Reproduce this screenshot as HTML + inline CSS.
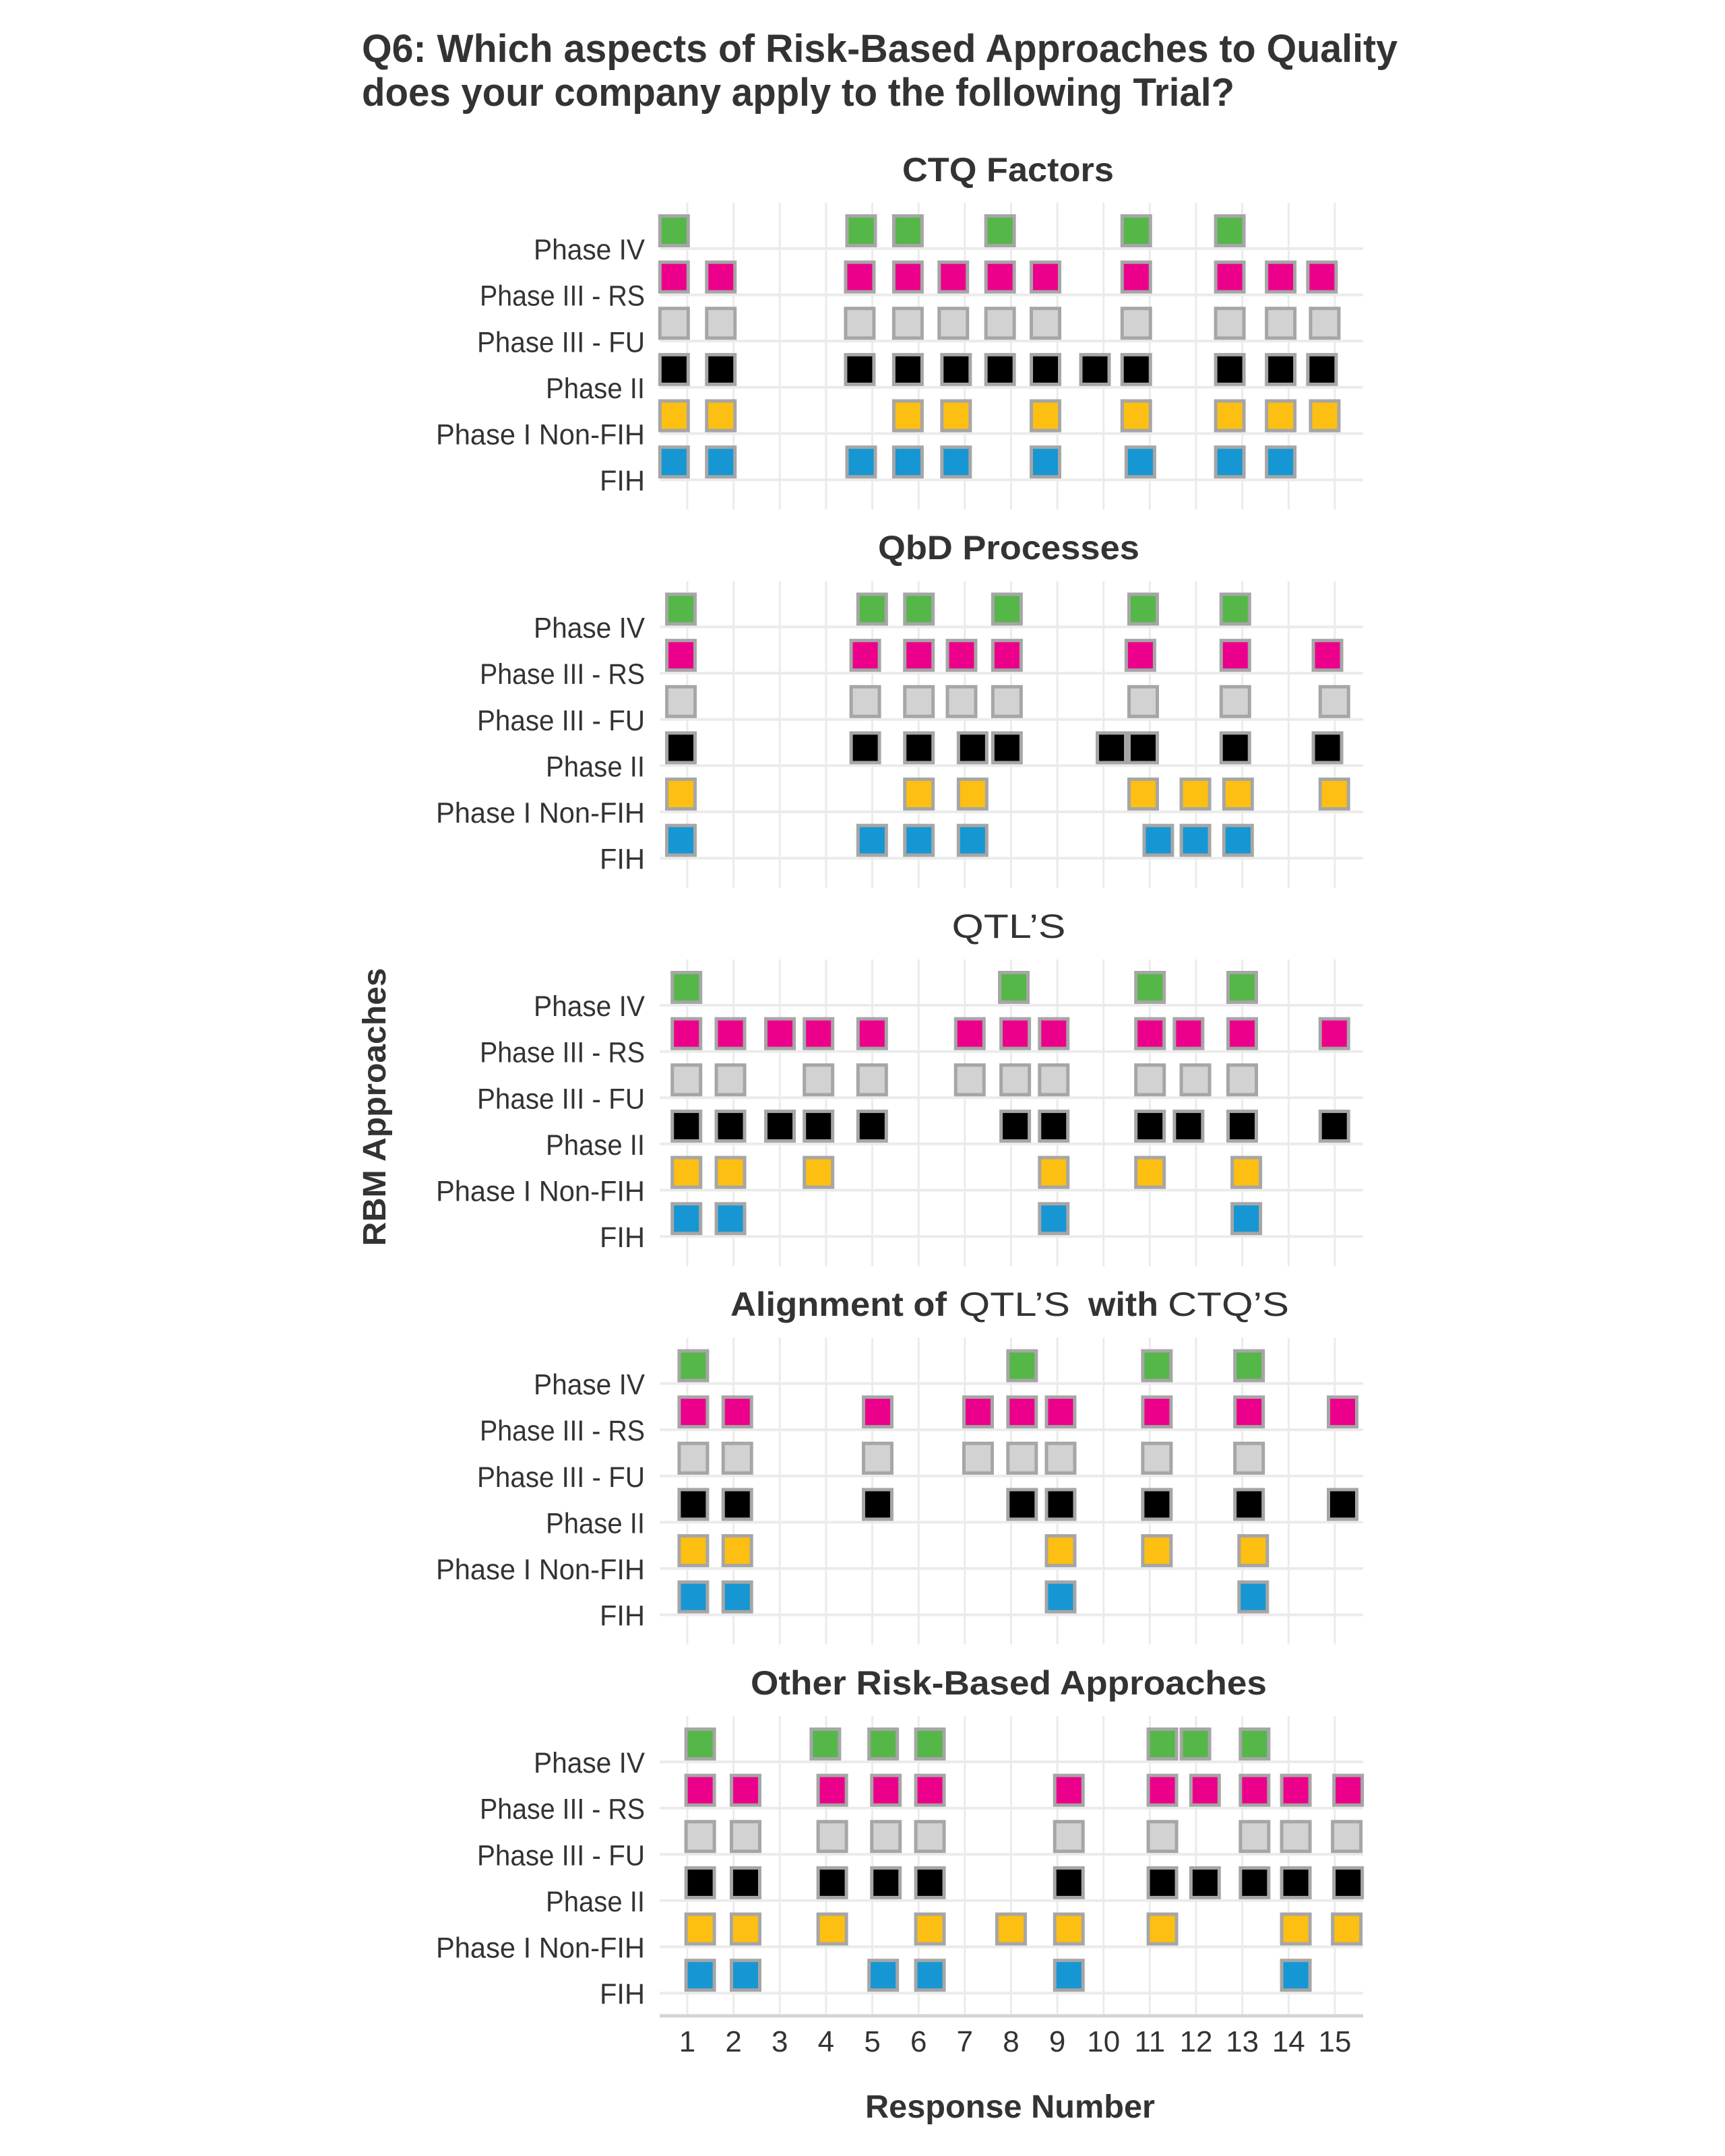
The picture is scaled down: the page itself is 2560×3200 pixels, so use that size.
<!DOCTYPE html>
<html><head><meta charset="utf-8"><style>
html,body{margin:0;padding:0;background:#fff;width:2560px;height:3200px;overflow:hidden}
svg{display:block}
text{fill:#333;font-family:"Liberation Sans","Noto Sans CJK SC",sans-serif}
</style></head><body>
<svg id="s" width="2560" height="3200" viewBox="0 0 2560 3200" xmlns="http://www.w3.org/2000/svg">
<rect width="2560" height="3200" fill="#fff"/>
<g id="g"></g>
<text x="537" y="92" font-size="58" font-weight="bold" textLength="1537" lengthAdjust="spacingAndGlyphs">Q6: Which aspects of Risk-Based Approaches to Quality</text>
<text x="537" y="157" font-size="58" font-weight="bold" textLength="1295" lengthAdjust="spacingAndGlyphs">does your company apply to the following Trial?</text>
<text transform="translate(572,1643) rotate(-90)" text-anchor="middle" font-size="48" font-weight="bold" textLength="413" lengthAdjust="spacingAndGlyphs">RBM Approaches</text>
<text x="1499" y="3143" text-anchor="middle" font-size="48" font-weight="bold" textLength="430" lengthAdjust="spacingAndGlyphs">Response Number</text>
<text x="1496" y="269" text-anchor="middle" font-size="50" font-weight="bold" textLength="314" lengthAdjust="spacingAndGlyphs">CTQ Factors</text>
<text x="1497" y="830" text-anchor="middle" font-size="50" font-weight="bold" textLength="388" lengthAdjust="spacingAndGlyphs">QbD Processes</text>
<text x="1497" y="1392" text-anchor="middle" font-size="50" textLength="169" lengthAdjust="spacingAndGlyphs">QTL’S</text>
<text x="1084" y="1953" font-size="50" font-weight="bold" textLength="321" lengthAdjust="spacingAndGlyphs">Alignment of</text>
<text x="1423" y="1953" font-size="50" textLength="165" lengthAdjust="spacingAndGlyphs">QTL’S</text>
<text x="1615" y="1953" font-size="50" font-weight="bold" textLength="104" lengthAdjust="spacingAndGlyphs">with</text>
<text x="1733" y="1953" font-size="50" textLength="180" lengthAdjust="spacingAndGlyphs">CTQ’S</text>
<text x="1497" y="2515" text-anchor="middle" font-size="50" font-weight="bold" textLength="766" lengthAdjust="spacingAndGlyphs">Other Risk-Based Approaches</text>
</svg>
<script>
(function(){
var NS="http://www.w3.org/2000/svg";
var G=document.getElementById("g");
function el(tag,attrs,txt){var e=document.createElementNS(NS,tag);for(var k in attrs)e.setAttribute(k,attrs[k]);if(txt!==undefined)e.textContent=txt;G.appendChild(e);return e;}
var S=2.0415;
var cols=["#55b748","#ec008b","#d2d2d2","#000000","#fdbf11","#1696d2"];
var labels=[["Phase IV",165],["Phase III - RS",245],["Phase III - FU",249],["Phase II",147],["Phase I Non-FIH",310],["FIH",67]];
var data=[
[[490,626,660,727,826,894],
 [490,524,625,660,693,727,760,826,894,931,961],
 [490,524,625,660,693,727,760,826,894,931,963],
 [490,524,625,660,695,727,760,796,826,894,931,961],
 [490,524,660,695,760,826,894,931,963],
 [490,524,626,660,695,760,829,894,931]],
[[495,634,668,732,831,898],
 [495,629,668,699,732,829,898,965],
 [495,629,668,699,732,831,898,970],
 [495,629,668,707,732,808,831,898,965],
 [495,668,707,831,869,900,970],
 [495,634,668,707,842,869,900]],
[[499,737,836,903],
 [499,531,567,595,634,705,738,766,836,864,903,970],
 [499,531,595,634,705,738,766,836,869,903],
 [499,531,567,595,634,738,766,836,864,903,970],
 [499,531,595,766,836,906],
 [499,531,766,906]],
[[504,743,841,908],
 [504,536,638,711,743,771,841,908,976],
 [504,536,638,711,743,771,841,908],
 [504,536,638,743,771,841,908,976],
 [504,536,771,841,911],
 [504,536,771,911]],
[[509,600,642,676,845,869,912],
 [509,542,605,644,676,777,845,876,912,942,980],
 [509,542,605,644,676,777,845,912,942,979],
 [509,542,605,644,676,777,845,876,912,942,980],
 [509,542,605,676,735,777,845,942,979],
 [509,542,642,676,777,942]]
];
var L=979,R=2023,step=68.64;
for(var p=0;p<5;p++){
  var g0=369+p*561.5;
  var yTop=g0-68, yBot=(p==4)?2992:(g0+5*step+44);
  for(var c=0;c<15;c++){var x=1020+c*step;el("line",{x1:x,y1:yTop,x2:x,y2:yBot,stroke:"#ebebeb","stroke-width":3});}
  for(var r=0;r<6;r++){var y=g0+r*step;el("line",{x1:L,y1:y,x2:R,y2:y,stroke:"#ebebeb","stroke-width":4});
    el("text",{x:957,y:y+16,"text-anchor":"end","font-size":43,textLength:labels[r][1],lengthAdjust:"spacingAndGlyphs"},labels[r][0]);
  }
}
for(var p=0;p<5;p++){
  var g0=369+p*561.5;
  for(var r=0;r<6;r++){var y=g0+r*step;var xs=data[p][r];
    for(var k=0;k<xs.length;k++){var cx=xs[k]*S;
      el("rect",{x:cx-21,y:y-48.5,width:42,height:44,fill:cols[r],stroke:"#a6a6a6","stroke-width":5});}
  }
}
el("line",{x1:L,y1:2992,x2:R,y2:2992,stroke:"#d4d4d4","stroke-width":5});
for(var c=0;c<15;c++){var x=1020+c*step;el("text",{x:x,y:3045,"text-anchor":"middle","font-size":44},String(c+1));}
})();
</script>
</body></html>
